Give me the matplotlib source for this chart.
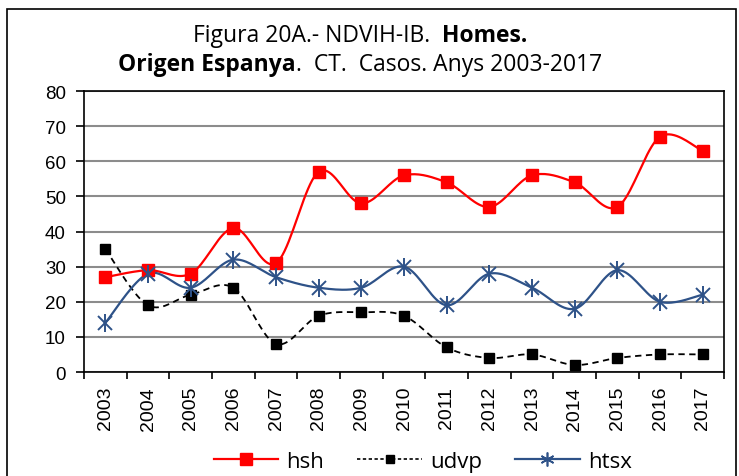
import matplotlib.pyplot as plt
import numpy as np
from matplotlib.patches import Rectangle

# 数据
years = list(range(2003, 2018))
hsh = [27, 29, 28, 41, 31, 57, 48, 56, 54, 47, 56, 54, 47, 67, 63]
udvp = [35, 19, 22, 24, 8, 16, 17, 16, 7, 4, 5, 2, 4, 5, 5]
htsx = [14, 28, 24, 32, 27, 24, 24, 30, 19, 28, 24, 18, 29, 20, 22]


def smooth(y, n=20):
    # Catmull-Rom 平滑曲线 (类似 Excel 的平滑线)
    y = np.asarray(y, dtype=float)
    x = np.arange(len(y), dtype=float)
    px = np.concatenate([[x[0]], x, [x[-1]]])
    py = np.concatenate([[y[0]], y, [y[-1]]])
    xs, ys = [], []
    t = np.linspace(0, 1, n, endpoint=False)
    for i in range(1, len(px) - 2):
        for p, out in ((px, xs), (py, ys)):
            p0, p1, p2, p3 = p[i - 1], p[i], p[i + 1], p[i + 2]
            c1 = p1 + (p2 - p0) / 6
            c2 = p2 - (p3 - p1) / 6
            out.extend((1 - t) ** 3 * p1 + 3 * (1 - t) ** 2 * t * c1
                       + 3 * (1 - t) * t ** 2 * c2 + t ** 3 * p2)
    xs.append(x[-1])
    ys.append(y[-1])
    return np.array(xs), np.array(ys)


plt.rcParams["font.family"] = ["Liberation Sans", "DejaVu Sans"]

fig = plt.figure(figsize=(7.39, 4.77), dpi=100)
ax = fig.add_axes([0.1137, 0.218, 0.866, 0.589])

# 外框
fig.patches.append(Rectangle((7 / 739, -0.1), 729 / 739, 1.1 - 10 / 477,
                             transform=fig.transFigure, fill=False,
                             edgecolor="black", linewidth=1.2))

idx = np.arange(len(years))
blue = "#2E5288"

xs, ys = smooth(hsh)
ax.plot(xs, ys, color="red", lw=1.6, zorder=3)
ax.plot(idx, hsh, ls="none", marker="s", ms=8, color="red", zorder=4)

xs, ys = smooth(udvp)
ax.plot(xs, ys, color="black", lw=1.3, ls=(0, (3.5, 2.5)), zorder=3)
ax.plot(idx, udvp, ls="none", marker="s", ms=7.5, color="black", zorder=4)

xs, ys = smooth(htsx)
ax.plot(xs, ys, color=blue, lw=1.6, zorder=3)
ax.plot(idx, htsx, ls="none", marker="x", ms=10, mew=1.4, color=blue, zorder=4)
ax.plot(idx, htsx, ls="none", marker="|", ms=13, mew=1.4, color=blue, zorder=4)

# 图例
h1, = ax.plot([], [], color="red", lw=1.6, marker="s", ms=8)
h2, = ax.plot([], [], color="black", lw=1.2, ls=(0, (2, 1.5)), marker="s", ms=6)
h3, = ax.plot([], [], color=blue, lw=1.6, marker=(6, 2, 0), ms=10, mew=1.2)
fig.legend([h1, h2, h3], ["hsh", "udvp", "htsx"], loc="center",
           bbox_to_anchor=(0.572, 0.03), ncol=3, frameon=False,
           prop={"family": "Open Sans", "size": 16}, handlelength=2.9,
           columnspacing=1.5, handletextpad=0.36)

ax.set_xlim(-0.5, len(years) - 0.5)
ax.set_ylim(0, 80)
ax.set_yticks(range(0, 81, 10))
ax.set_xticks(idx)
ax.set_xticklabels([str(y) for y in years], rotation=90, fontsize=14)
ax.set_xticks(np.arange(-0.5, len(years), 1), minor=True)
ax.tick_params(axis="x", which="major", length=0, pad=10)
ax.tick_params(axis="x", which="minor", length=5, width=1.2, direction="out")
ax.tick_params(axis="y", length=6, width=1.2, labelsize=13.5, pad=7)
ax.grid(axis="y", color="#8C8C8C", lw=1.5)
ax.set_axisbelow(True)
for s in ax.spines.values():
    s.set_linewidth(1.2)

# 标题 (混合粗体)
def line(parts, y):
    r = fig.canvas.get_renderer()
    texts = [fig.text(0, y, s, fontsize=16.5, family="Open Sans",
                      fontweight=w, va="center") for s, w in parts]
    widths = [t.get_window_extent(r).width for t in texts]
    x = 360 - sum(widths) / 2
    for t, w in zip(texts, widths):
        t.set_x(x / 739)
        x += w


line([("Figura 20A.- NDVIH-IB.  ", "normal"), ("Homes.", "bold")], 1 - 36 / 477)
line([("Origen Espanya", "bold"), (".  CT.  Casos. Anys 2003-2017", "normal")],
     1 - 65 / 477)

fig.savefig("out.png", dpi=100)
